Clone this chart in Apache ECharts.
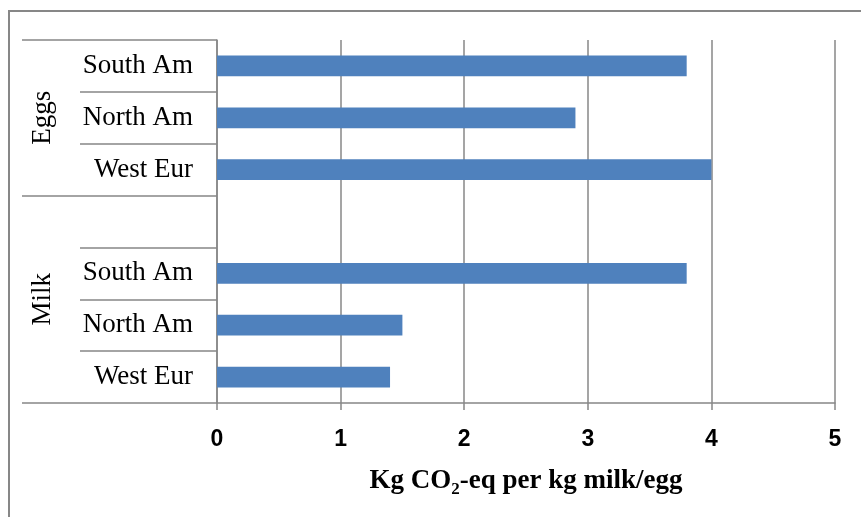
<!DOCTYPE html>
<html>
<head>
<meta charset="utf-8">
<script src="https://cdn.jsdelivr.net/npm/echarts@6/dist/echarts.min.js"></script>
<style>
html,body{margin:0;padding:0;background:#fff;}
#chart{width:861px;height:517px;}
</style>
</head>
<body>
<div id="chart"></div>
<script>
// Data (top-to-bottom reading order)
const groups  = ['Eggs', 'Eggs', 'Eggs', 'Milk', 'Milk', 'Milk', 'Milk'];
const regions = ['South Am', 'North Am', 'West Eur', '', 'South Am', 'North Am', 'West Eur'];
const values  = [3.8, 2.9, 4.0, null, 3.8, 1.5, 1.4];
const groupNames = ['Eggs', 'Milk'];
const xTicks = [0, 1, 2, 3, 4, 5];

const categories = regions.map((r, i) => groups[i] + '|' + r);
// group start indices and centres (in category units)
const groupStart = groupNames.map(g => groups.indexOf(g));
const groupCentre = groupNames.map(g => (groups.indexOf(g) + groups.lastIndexOf(g) + 1) / 2);

const gray = '#878787';
const serif = "'Liberation Serif', 'DejaVu Serif', serif";
const sansNarrow = "'Liberation Sans Narrow', 'Liberation Sans', sans-serif";

const chart = echarts.init(document.getElementById('chart'));
chart.setOption({
  animation: false,
  backgroundColor: '#fff',
  graphic: [{
    type: 'rect',
    shape: { x: 9, y: 11, width: 900, height: 600 },
    style: { fill: 'none', stroke: gray, lineWidth: 2 },
    silent: true
  }],
  grid: { left: 217, right: 26, top: 40, bottom: 114, containLabel: false },
  xAxis: {
    type: 'value',
    min: xTicks[0],
    max: xTicks[xTicks.length - 1],
    interval: 1,
    axisLine: { show: true, onZero: false, lineStyle: { color: gray, width: 1.5 } },
    axisTick: { show: true, length: 7, lineStyle: { color: gray, width: 1.5 } },
    splitLine: { show: true, lineStyle: { color: gray, width: 1.5 } },
    axisLabel: { color: '#000', fontFamily: sansNarrow, fontWeight: 'bold', fontSize: 23, margin: 25 },
    name: '{a|Kg CO}{s|2}{a|-eq per kg milk/egg}',
    nameLocation: 'middle',
    nameGap: 61,
    nameTextStyle: {
      rich: {
        a: { fontFamily: serif, fontWeight: 'bold', fontSize: 27, color: '#000', lineHeight: 34 },
        s: { fontFamily: serif, fontWeight: 'bold', fontSize: 17, color: '#000', lineHeight: 17, verticalAlign: 'bottom' }
      }
    }
  },
  yAxis: [{
    type: 'category',
    inverse: true,
    data: categories,
    position: 'left',
    axisLine: { show: true, onZero: false, lineStyle: { color: gray, width: 1.5 } },
    axisTick: { show: true, length: 137, lineStyle: { color: gray, width: 1.5 } },
    splitLine: { show: false },
    axisLabel: {
      color: '#000', fontFamily: serif, fontSize: 27, margin: 24,
      padding: [4, 0, 0, 0],
      formatter: v => v.split('|')[1]
    }
  }, {
    type: 'category',
    inverse: true,
    data: categories,
    position: 'left',
    offset: 137,
    axisLine: { show: false, onZero: false },
    axisTick: {
      show: true, length: 58,
      interval: (i) => groupStart.indexOf(i) >= 0,
      lineStyle: { color: gray, width: 1.5 }
    },
    axisLabel: { show: false },
    splitLine: { show: false }
  }, {
    type: 'value',
    inverse: true,
    min: 0,
    max: categories.length,
    interval: 0.5,
    position: 'left',
    offset: 154,
    axisLine: { show: false, onZero: false },
    axisTick: { show: false },
    splitLine: { show: false },
    axisLabel: {
      rotate: 90, margin: 7,
      color: '#000', fontFamily: serif, fontSize: 27,
      formatter: v => {
        const k = groupCentre.indexOf(v);
        return k >= 0 ? groupNames[k] : '';
      }
    }
  }],
  series: [{
    type: 'bar',
    yAxisIndex: 0,
    data: values,
    barWidth: '40%',
    itemStyle: { color: '#4F81BD' }
  }]
});
</script>
</body>
</html>
